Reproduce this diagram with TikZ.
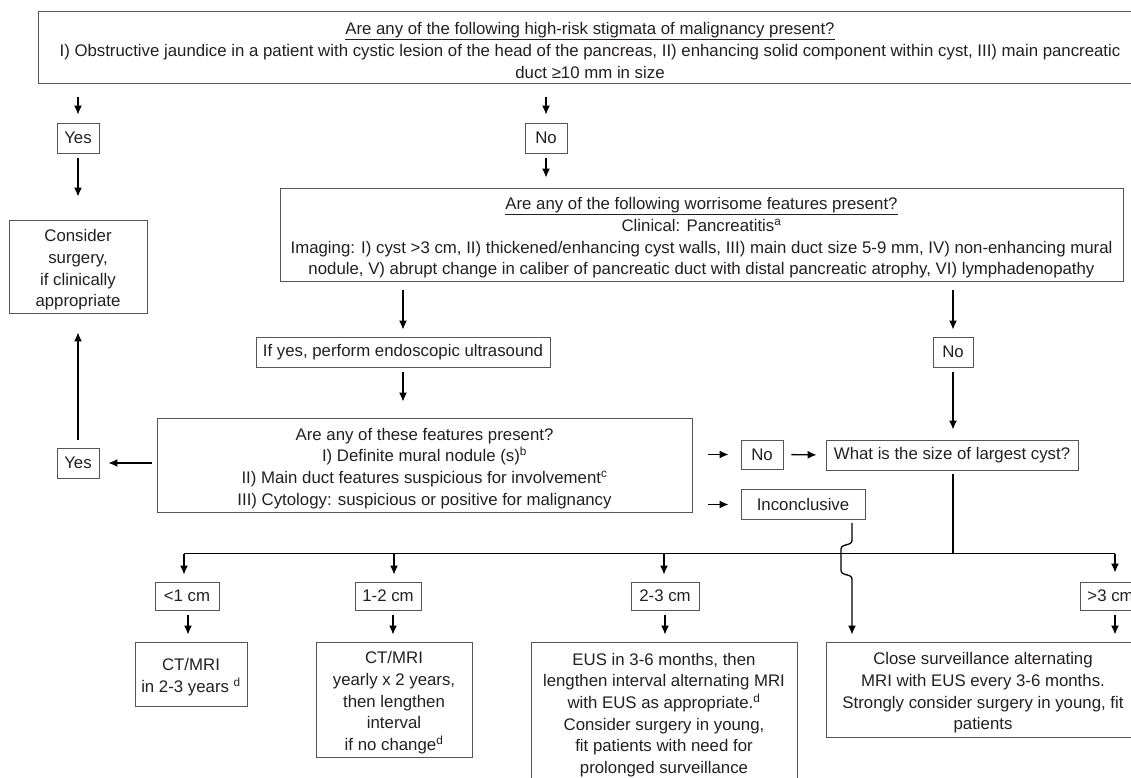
\documentclass[tikz,border=0pt]{standalone}
\usepackage{fontspec}
\setmainfont{Liberation Sans}
\usetikzlibrary{arrows.meta}
\definecolor{boxgray}{HTML}{555555}
\definecolor{txt}{HTML}{231F20}
\newcommand{\fsz}{\fontsize{16.8}{21.7}\selectfont}
\newcommand{\toprule}{\rule{0pt}{19pt}}
\tikzset{
  box/.style={draw=boxgray, line width=0.9pt, inner sep=0pt, align=center, font=\fsz, text=txt},
  arr/.style={draw=black, line width=1.3pt, -{Latex[length=9pt,width=8pt]}},
  plain/.style={draw=black, line width=1.3pt},
}
\begin{document}
\begin{tikzpicture}[x=1pt,y=-1pt]
\useasboundingbox (0,0) rectangle (1131,778);
\clip (0,0) rectangle (1131,778);
% nodes
\node[box, minimum width=1104, minimum height=72] (top) at (590,47)
 {\toprule\underline{Are any of the following high-risk stigmata of malignancy present?}\\
  I) Obstructive jaundice in a patient with cystic lesion of the head of the pancreas, II) enhancing solid component within cyst, III) main pancreatic\\
  duct ≥10 mm in size};
\node[box, minimum width=42, minimum height=30] (yes1) at (78,138) {Yes};
\node[box, minimum width=42, minimum height=30] (no1) at (546,138) {No};
\node[box, minimum width=138, minimum height=93] (consider) at (78,266.5)
 {\toprule Consider\\surgery,\\if clinically\\appropriate};
\node[box, minimum width=843, minimum height=93] (worry) at (701.5,234.5)
 {\toprule\underline{Are any of the following worrisome features present?}\\
  Clinical: Pancreatitis\textsuperscript{a}\\
  Imaging: I) cyst >3 cm, II) thickened/enhancing cyst walls, III) main duct size 5-9 mm, IV) non-enhancing mural\\
  nodule, V) abrupt change in caliber of pancreatic duct with distal pancreatic atrophy, VI) lymphadenopathy};
\node[box, minimum width=294, minimum height=30] (ifyes) at (403,352) {If yes, perform endoscopic ultrasound};
\node[box, minimum width=40, minimum height=30] (no2) at (953,352) {No};
\node[box, minimum width=535, minimum height=94] (feat) at (424.5,465)
 {\toprule Are any of these features present?\\
  I) Definite mural nodule (s)\textsuperscript{b}\\
  II) Main duct features suspicious for involvement\textsuperscript{c}\\
  III) Cytology: suspicious or positive for malignancy};
\node[box, minimum width=42, minimum height=30] (yes2) at (78,463) {Yes};
\node[box, minimum width=42, minimum height=29] (no3) at (762,454.5) {No};
\node[box, minimum width=252, minimum height=30] (size) at (952,455) {What is the size of largest cyst?};
\node[box, minimum width=124, minimum height=30] (inconc) at (803,504.5) {Inconclusive};
\node[box, minimum width=64, minimum height=28] (s1) at (187,596) {<1 cm};
\node[box, minimum width=66, minimum height=28] (s2) at (388,596) {1-2 cm};
\node[box, minimum width=68, minimum height=28] (s3) at (665,596) {2-3 cm};
\node[box, minimum width=60, minimum height=28, anchor=west, inner xsep=7pt] (s4) at (1080,596) {>3 cm};
\node[box, minimum width=112, minimum height=64] (r1) at (191,674)
 {\toprule CT/MRI\\in 2-3 years \textsuperscript{d}};
\node[box, minimum width=156, minimum height=115] (r2) at (394,699.5)
 {\toprule CT/MRI\\yearly x 2 years,\\then lengthen\\interval\\if no change\textsuperscript{d}};
\node[box, minimum width=266, minimum height=139] (r3) at (664,711.5)
 {\toprule EUS in 3-6 months, then\\lengthen interval alternating MRI\\with EUS as appropriate.\textsuperscript{d}\\Consider surgery in young,\\fit patients with need for\\prolonged surveillance};
\node[box, minimum width=314, minimum height=95] (r4) at (983,689.5)
 {\toprule Close surveillance alternating\\MRI with EUS every 3-6 months.\\Strongly consider surgery in young, fit\\patients};
% bus coordinates
\coordinate (busM) at (953,553.5);
\coordinate (b1) at (184,553.5);
\coordinate (b2) at (394,553.5);
\coordinate (b3) at (664,553.5);
\coordinate (b4) at (1115,553.5);
% connectors
\draw[arr, shorten <=14pt, shorten >=8pt] (top.south -| yes1) -- (yes1.north);
\draw[arr, shorten <=14pt, shorten >=8pt] (top.south -| no1) -- (no1.north);
\draw[arr, shorten <=5pt, shorten >=23pt] (yes1.south) -- (consider.north);
\draw[arr, shorten <=5pt, shorten >=10pt] (no1.south) -- (no1.south |- worry.north);
\draw[arr, shorten <=9pt, shorten >=7pt] (worry.south -| ifyes) -- (ifyes.north);
\draw[arr, shorten <=9pt, shorten >=7pt] (worry.south -| no2) -- (no2.north);
\draw[arr, shorten <=5pt, shorten >=16pt] (ifyes.south) -- (ifyes.south |- feat.north);
\draw[arr, shorten <=5pt, shorten >=9pt] (feat.west |- yes2) -- (yes2.east);
\draw[arr, shorten <=8pt, shorten >=19pt] (yes2.north) -- (consider.south);
\draw[arr, shorten <=5pt, shorten >=10pt] (no2.south) -- (no2.south |- size.north);
\draw[arr, shorten <=16pt, shorten >=12pt] (feat.east |- no3) -- (no3.west);
\draw[arr, shorten <=16pt, shorten >=12pt] (feat.east |- inconc) -- (inconc.west);
\draw[arr, shorten <=8pt, shorten >=9pt] (no3.east) -- (size.west);
\draw[plain] ([yshift=-4pt]size.south -| busM) -- (busM);
\draw[plain] (b1) -- (b4);
\draw[arr, shorten >=7pt] (b1) -- (b1 |- s1.north);
\draw[arr, shorten >=7pt] (b2) -- (b2 |- s2.north);
\draw[arr, shorten >=7pt] (b3) -- (b3 |- s3.north);
\draw[arr, shorten >=9pt] (b4) -- (b4 |- s4.north);
\draw[arr, shorten <=5pt, shorten >=7pt] (s1.south -| 188,0) -- (188,0 |- r1.north);
\draw[arr, shorten <=5pt, shorten >=7pt] (s2.south -| 393,0) -- (393,0 |- r2.north);
\draw[arr, shorten <=5pt, shorten >=7pt] (s3.south) -- (s3.south |- r3.north);
\draw[arr, shorten <=5pt, shorten >=7pt] (b4 |- s4.south) -- (b4 |- r4.north);
% inconclusive jump-over connector
\coordinate (j0) at (852,540);
\draw[arr, rounded corners=2.5pt, shorten >=7pt]
  ([yshift=-3pt]inconc.south -| j0) -- (852,543) -- (841,546.5) -- (841,573) -- (852,576.5) -- (j0 |- r4.north);
\end{tikzpicture}
\end{document}
